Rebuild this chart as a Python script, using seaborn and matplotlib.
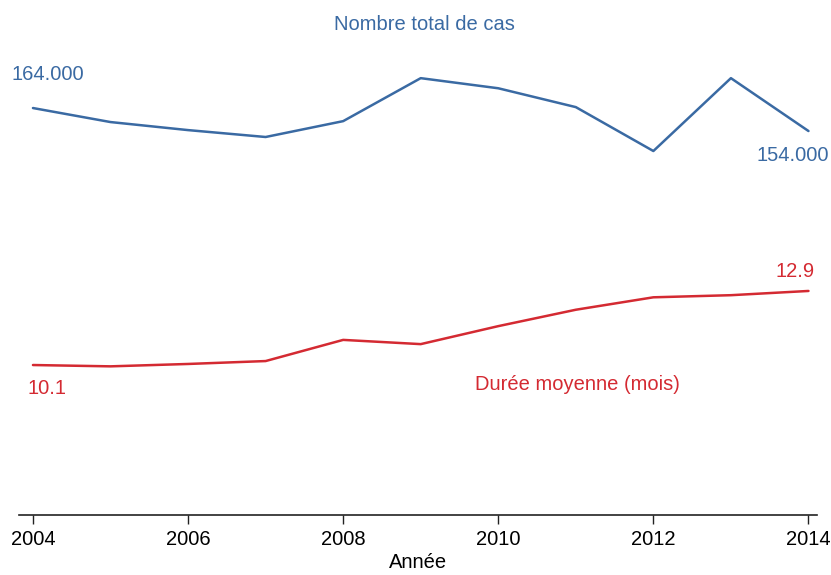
import matplotlib
matplotlib.use("Agg")
import matplotlib.pyplot as plt
import seaborn as sns
import pandas as pd

# Data
years = [2004, 2005, 2006, 2007, 2008, 2009, 2010, 2011, 2012, 2013, 2014]
total_cases = [164000, 157900, 154400, 151400, 158300, 177000, 172600, 164400, 145300, 177000, 154000]
mean_duration = [10.1, 10.05, 10.14, 10.25, 11.05, 10.89, 11.57, 12.19, 12.66, 12.74, 12.9]
x_ticks = [2004, 2006, 2008, 2010, 2012, 2014]

blue = '#3a6aa3'
red = '#d42a32'

df = pd.DataFrame({'Année': years, 'cas': total_cases, 'duree': mean_duration})

sns.set_style('white')
plt.rcParams['font.family'] = ['Liberation Sans', 'DejaVu Sans']

fig = plt.figure(figsize=(8.31, 5.75), dpi=100)
ax = fig.add_axes([19 / 831, 60 / 575, 798 / 831, 515 / 575])
ax2 = ax.twinx()

sns.lineplot(data=df, x='Année', y='duree', ax=ax, color=red, linewidth=1.8)
sns.lineplot(data=df, x='Année', y='cas', ax=ax2, color=blue, linewidth=1.8)

ax.set_xlim(2003.82, 2014.11)
ax.set_ylim(4.43, 23.9)
ax2.set_ylim(-13045, 211000)

for a in (ax, ax2):
    a.set_yticks([])
    a.set_ylabel('')
    for side in ('top', 'right', 'left'):
        a.spines[side].set_visible(False)
ax2.spines['bottom'].set_visible(False)
ax.spines['bottom'].set_color('#222222')
ax.spines['bottom'].set_linewidth(1.2)

ax.set_xticks(x_ticks)
ax.set_xticklabels([str(t) for t in x_ticks], fontsize=14.5, color='black')
ax.tick_params(axis='x', direction='out', length=6.5, width=1.0, color='#222222', pad=4, bottom=True)
ax.set_xlabel('Année', fontsize=14.5, labelpad=3, color='black')

# Annotations
ax2.text(2009.05, 200400, 'Nombre total de cas', color=blue, fontsize=14.5, ha='center', va='center')
ax2.annotate(f"{total_cases[0]:,}".replace(',', '.'), (years[0], total_cases[0]), xytext=(11, 24),
             textcoords='offset points', color=blue, fontsize=14.5, ha='center', va='center')
ax2.annotate(f"{total_cases[-1]:,}".replace(',', '.'), (years[-1], total_cases[-1]), xytext=(-11.5, -17.5),
             textcoords='offset points', color=blue, fontsize=14.5, ha='center', va='center')
ax.annotate(f"{mean_duration[0]}", (years[0], mean_duration[0]), xytext=(10.4, -16.8),
            textcoords='offset points', color=red, fontsize=14.5, ha='center', va='center')
ax.annotate(f"{mean_duration[-1]}", (years[-1], mean_duration[-1]), xytext=(-9.7, 14.2),
            textcoords='offset points', color=red, fontsize=14.5, ha='center', va='center')
ax.text(2011.02, 9.38, 'Durée moyenne (mois)', color=red, fontsize=14.5, ha='center', va='center')

fig.savefig('out.png', dpi=100)
